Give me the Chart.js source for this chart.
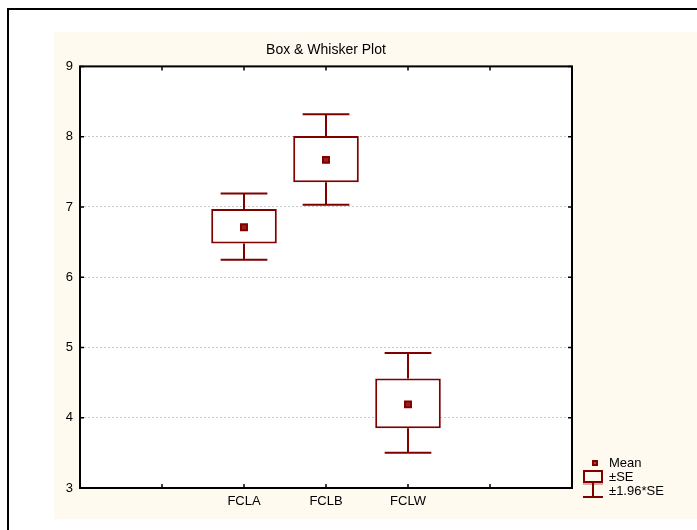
<!DOCTYPE html>
<html>
<head>
<meta charset="utf-8">
<script src="https://cdn.jsdelivr.net/npm/chart.js@4"></script>
<style>
  html, body { margin: 0; padding: 0; background: #fff; overflow: hidden; }
  body { width: 697px; height: 530px; position: relative; font-family: Arial, "Liberation Sans", sans-serif; }
  .frame { position: absolute; left: 7px; top: 8px; width: 720px; height: 560px; border: 2px solid #000; }
  .panel { position: absolute; left: 54px; top: 32px; width: 643px; height: 487px; background: #fffaf0; }
  .legend { position: absolute; left: 609px; top: 456px; font-size: 13px; line-height: 14px; color: #000; }
  .legend-icons { position: absolute; left: 581px; top: 457px; }
</style>
</head>
<body>
<div class="frame"></div>
<div class="panel"><canvas id="boxChart"></canvas></div>
<svg class="legend-icons" width="26" height="44" viewBox="0 0 26 44">
  <rect x="11" y="3" width="6" height="6" fill="#800000"/>
  <rect x="13" y="5.5" width="2" height="1" fill="#d08a8a"/>
  <rect x="3" y="14" width="18" height="11" fill="none" stroke="#800000" stroke-width="2"/>
  <line x1="2" y1="27" x2="22" y2="27" stroke="#c89090" stroke-width="1.5"/>
  <line x1="12" y1="25" x2="12" y2="40" stroke="#800000" stroke-width="2"/>
  <line x1="2" y1="40" x2="22" y2="40" stroke="#800000" stroke-width="2"/>
</svg>
<div class="legend">
  <div>Mean</div>
  <div>±SE</div>
  <div>±1.96*SE</div>
</div>
<script>
const categories = ['FCLA', 'FCLB', 'FCLW'];
const catSlots = [2, 3, 4];
const xTickLabels = ['', '', 'FCLA', 'FCLB', 'FCLW', '', ''];
const means = [6.71, 7.67, 4.19];
const seLow = [6.48, 7.35, 3.85];
const seHigh = [6.97, 8.01, 4.56];
const ciLow = [6.25, 7.03, 3.50];
const ciHigh = [7.19, 8.32, 4.92];
const yMin = 3;
const yMax = 9;

const maroon = '#800000';
const capHalf = 0.285;

// whisker segments, separated by gaps
const whiskerPoints = [];
categories.forEach((c, i) => {
  const s = catSlots[i];
  whiskerPoints.push({ x: s, y: seHigh[i] }, { x: s, y: ciHigh[i] }, { x: s, y: null });
  whiskerPoints.push({ x: s - capHalf, y: ciHigh[i] }, { x: s + capHalf, y: ciHigh[i] }, { x: s, y: null });
  whiskerPoints.push({ x: s, y: seLow[i] }, { x: s, y: ciLow[i] }, { x: s, y: null });
  whiskerPoints.push({ x: s - capHalf, y: ciLow[i] }, { x: s + capHalf, y: ciLow[i] }, { x: s, y: null });
});

const plotFrame = {
  id: 'plotFrame',
  beforeDraw(chart) {
    const { ctx, chartArea: a } = chart;
    ctx.save();
    ctx.fillStyle = '#fff';
    ctx.fillRect(a.left, a.top, a.right - a.left, a.bottom - a.top);
    ctx.restore();
  },
  afterDraw(chart) {
    const { ctx, chartArea: a, scales } = chart;
    ctx.save();
    ctx.strokeStyle = '#000';
    ctx.lineWidth = 2;
    ctx.strokeRect(a.left, a.top, a.right - a.left, a.bottom - a.top);
    ctx.lineWidth = 1.5;
    ctx.beginPath();
    scales.x.ticks.forEach((t) => {
      const px = scales.x.getPixelForValue(t.value);
      ctx.moveTo(px, a.top); ctx.lineTo(px, a.top + 4);
      ctx.moveTo(px, a.bottom); ctx.lineTo(px, a.bottom - 4);
    });
    scales.y.ticks.forEach((t) => {
      const py = scales.y.getPixelForValue(t.value);
      ctx.moveTo(a.left, py); ctx.lineTo(a.left + 4, py);
      ctx.moveTo(a.right, py); ctx.lineTo(a.right - 4, py);
    });
    ctx.stroke();
    ctx.restore();
  }
};

const ctx = document.getElementById('boxChart');
const boxChart = new Chart(ctx, {
  type: 'bar',
  data: {
    datasets: [
      {
        type: 'scatter',
        label: 'Mean',
        data: categories.map((c, i) => ({ x: catSlots[i], y: means[i] })),
        pointStyle: 'rect',
        pointRadius: 4.2,
        backgroundColor: '#9a2020',
        borderColor: maroon,
        borderWidth: 2
      },
      {
        label: '±SE',
        data: categories.map((c, i) => ({ x: catSlots[i], y: [seLow[i], seHigh[i]] })),
        backgroundColor: '#fff',
        borderColor: maroon,
        borderWidth: 2,
        borderSkipped: false,
        categoryPercentage: 1,
        barPercentage: 0.8
      },
      {
        type: 'line',
        label: '±1.96*SE',
        data: whiskerPoints,
        borderColor: maroon,
        borderWidth: 2,
        pointRadius: 0,
        spanGaps: false,
        fill: false
      }
    ]
  },
  options: {
    responsive: true,
    maintainAspectRatio: false,
    animation: false,
    layout: { padding: { left: 0, right: 125, top: 0, bottom: 0 } },
    plugins: {
      legend: { display: false },
      tooltip: { enabled: false },
      title: {
        display: true,
        text: 'Box & Whisker Plot',
        fullSize: false,
        color: '#000',
        font: { family: 'Arial, "Liberation Sans", sans-serif', size: 14, weight: 'normal' },
        padding: { top: 10, bottom: 7.6 }
      }
    },
    scales: {
      x: {
        type: 'linear',
        min: 0,
        max: 6,
        offset: false,
        afterFit: (scale) => { scale.height = 31; },
        grid: { display: false, drawTicks: false },
        border: { display: false },
        ticks: {
          stepSize: 1,
          padding: 6,
          color: '#000',
          font: { family: 'Arial, "Liberation Sans", sans-serif', size: 13 },
          callback: (v) => xTickLabels[v] || ''
        }
      },
      y: {
        min: yMin,
        max: yMax,
        afterFit: (scale) => { scale.width = 26; },
        grid: { color: '#c8c8c8', lineWidth: 1, drawTicks: false },
        border: { display: false, dash: [2, 2] },
        ticks: {
          stepSize: 1,
          padding: 7,
          color: '#000',
          font: { family: 'Arial, "Liberation Sans", sans-serif', size: 13 }
        }
      }
    }
  },
  plugins: [plotFrame]
});
</script>
</body>
</html>
